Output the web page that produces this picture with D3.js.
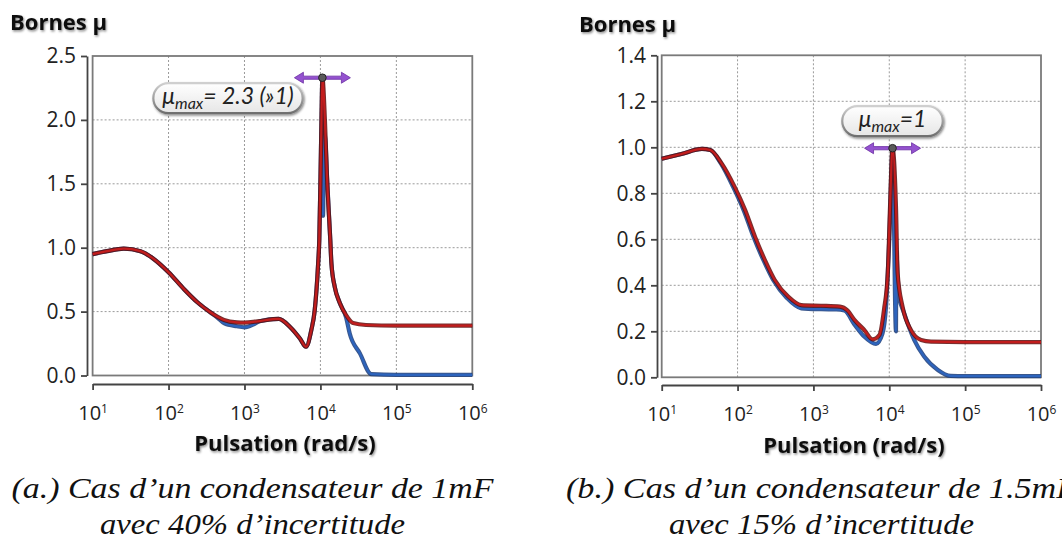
<!DOCTYPE html>
<html>
<head>
<meta charset="utf-8">
<script src="https://cdn.jsdelivr.net/npm/d3@7"></script>
<style>
  body { margin: 0; background: #fff; }
  svg { display: block; }
  .tick text { font-family: "Open Sans", sans-serif; fill: #222; }
</style>
</head>
<body>
<svg id="chart" width="1062" height="547"></svg>
<script>
// x ticks are decades 10^1 .. 10^6 (exponents)
const xTickExp = [1, 2, 3, 4, 5, 6];
const yTicksA = [0, 0.5, 1.0, 1.5, 2.0, 2.5];
const yTicksB = [0, 0.2, 0.4, 0.6, 0.8, 1.0, 1.2, 1.4];

// (a) 1mF, 40% -- log10(pulsation) and mu bounds
const aUpperLw = [1.0, 1.19, 1.41, 1.63, 1.80, 2.0, 2.2, 2.38, 2.55, 2.73, 2.9, 3.0, 3.17, 3.45, 3.6, 3.73, 3.81, 3.88, 3.925, 3.97, 3.985, 4.001, 4.014, 4.026, 4.059, 4.087, 4.13, 4.145, 4.19, 4.25, 4.34, 4.43, 4.6, 5.0, 6.0];
const aUpperMu = [0.95, 0.973, 0.992, 0.973, 0.914, 0.808, 0.678, 0.573, 0.495, 0.435, 0.416, 0.414, 0.424, 0.443, 0.38, 0.29, 0.225, 0.355, 0.51, 0.875, 1.06, 1.55, 2.0, 2.33, 2.0, 1.55, 1.06, 0.875, 0.69, 0.575, 0.47, 0.41, 0.395, 0.39, 0.39];
const aLowerLw = [1.0, 1.19, 1.41, 1.63, 1.80, 2.0, 2.2, 2.38, 2.55, 2.65, 2.73, 2.9, 3.0, 3.12, 3.2, 3.45, 3.6, 3.73, 3.81, 3.88, 3.925, 3.97, 3.985, 4.001, 4.014, 4.026, 4.034, 4.05, 4.065, 4.087, 4.13, 4.145, 4.19, 4.25, 4.34, 4.385, 4.52, 4.67, 5.0, 6.0];
const aLowerMu = [0.95, 0.973, 0.992, 0.973, 0.914, 0.808, 0.678, 0.573, 0.495, 0.45, 0.41, 0.385, 0.377, 0.40, 0.425, 0.443, 0.38, 0.29, 0.225, 0.355, 0.51, 0.875, 1.06, 1.55, 2.0, 2.33, 1.25, 1.9, 1.85, 1.55, 1.06, 0.875, 0.69, 0.575, 0.45, 0.33, 0.173, 0.01, 0.005, 0.005];

// (b) 1.5mF, 15%
const bUpperLw = [1.0, 1.26, 1.53, 1.64, 1.79, 1.96, 2.1, 2.23, 2.36, 2.49, 2.67, 2.84, 3.1, 3.35, 3.45, 3.54, 3.67, 3.78, 3.87, 3.93, 3.98, 4.01, 4.043, 4.088, 4.11, 4.175, 4.285, 4.42, 4.55, 5.0, 6.0];
const bUpperMu = [0.95, 0.971, 0.993, 0.988, 0.93, 0.829, 0.727, 0.611, 0.51, 0.423, 0.35, 0.314, 0.311, 0.307, 0.29, 0.25, 0.206, 0.165, 0.184, 0.293, 0.452, 0.742, 0.996, 0.742, 0.452, 0.307, 0.206, 0.162, 0.155, 0.153, 0.153];
const bLowerLw = [1.0, 1.26, 1.53, 1.64, 1.78, 1.94, 2.08, 2.21, 2.34, 2.47, 2.65, 2.84, 3.1, 3.3, 3.41, 3.54, 3.67, 3.825, 3.91, 3.957, 4.0, 4.043, 4.088, 4.093, 4.11, 4.13, 4.197, 4.33, 4.46, 4.64, 4.81, 5.0, 6.0];
const bLowerMu = [0.95, 0.971, 0.993, 0.988, 0.93, 0.829, 0.727, 0.611, 0.51, 0.423, 0.345, 0.30, 0.296, 0.295, 0.29, 0.23, 0.177, 0.145, 0.19, 0.307, 0.6, 0.99, 0.2, 0.55, 0.44, 0.35, 0.278, 0.162, 0.09, 0.032, 0.006, 0.005, 0.005];

// peak markers and labels
const aPeak = { lw: 4.026, mu: 2.33 };
const bPeak = { lw: 4.043, mu: 0.996 };
const aNote = { value: "= 2.3 (»1)", lw0: 1.80, lw1: 3.766, mu: 2.17 };
const bNote = { value: "=1", lw0: 3.38, lw1: 4.705, mu: 1.114 };

const yTitle = "Bornes μ";
const xTitle = "Pulsation (rad/s)";
const captionA = ["(a.) Cas d’un condensateur de 1mF", "avec 40% d’incertitude"];
const captionB = ["(b.) Cas d’un condensateur de 1.5mF", "avec 15% d’incertitude"];

const svg = d3.select("#chart");
svg.append("rect").attr("width", 1062).attr("height", 547).attr("fill", "#fff");

const defs = svg.append("defs");
const shadow = defs.append("filter").attr("id", "shadow").attr("x", "-10%").attr("y", "-30%").attr("width", "130%").attr("height", "180%");
shadow.append("feDropShadow").attr("dx", 1).attr("dy", 1.5).attr("stdDeviation", 1.2)
  .attr("flood-color", "#000").attr("flood-opacity", 0.45);
const pillFill = defs.append("linearGradient").attr("id", "pillFill").attr("x1", 0).attr("y1", 0).attr("x2", 0).attr("y2", 1);
pillFill.append("stop").attr("offset", "0%").attr("stop-color", "#ffffff");
pillFill.append("stop").attr("offset", "100%").attr("stop-color", "#e6e6e6");
const pillStroke = defs.append("linearGradient").attr("id", "pillStroke").attr("x1", 0).attr("y1", 0).attr("x2", 0).attr("y2", 1);
pillStroke.append("stop").attr("offset", "0%").attr("stop-color", "#d0d0d0");
pillStroke.append("stop").attr("offset", "100%").attr("stop-color", "#6e6e6e");

const panels = [
  { left: 92.6, right: 472.3, top: 56, bottom: 375.5, yMax: 2.5, yTicks: yTicksA,
    yAxisX: 87, xAxisY: 384, titleX: 10, titleY: 29.5, xTitleX: 285, xTitleY: 451,
    upper: [aUpperLw, aUpperMu], lower: [aLowerLw, aLowerMu], peak: aPeak, note: aNote,
    caption: captionA, capX: 252.5, capW: [482, 305] },
  { left: 661.7, right: 1041, top: 55.3, bottom: 377.3, yMax: 1.4, yTicks: yTicksB,
    yAxisX: 657, xAxisY: 385, titleX: 579, titleY: 31.5, xTitleX: 854, xTitleY: 453,
    upper: [bUpperLw, bUpperMu], lower: [bLowerLw, bLowerMu], peak: bPeak, note: bNote,
    caption: captionB, capX: 821.5, capW: [511, 305] }
];

panels.forEach(p => {
  const x = d3.scaleLog().domain([10, 1e6]).range([p.left, p.right]);
  const y = d3.scaleLinear().domain([0, p.yMax]).range([p.bottom, p.top]);
  const g = svg.append("g");

  // dotted grid
  g.selectAll(".vgrid").data(xTickExp.slice(1, -1)).enter().append("line")
    .attr("x1", d => x(10 ** d)).attr("x2", d => x(10 ** d))
    .attr("y1", p.top).attr("y2", p.bottom)
    .attr("stroke", "#9a9a9a").attr("stroke-dasharray", "2,2").attr("stroke-width", 1);
  g.selectAll(".hgrid").data(p.yTicks.slice(1, -1)).enter().append("line")
    .attr("x1", p.left).attr("x2", p.right)
    .attr("y1", d => y(d)).attr("y2", d => y(d))
    .attr("stroke", "#9a9a9a").attr("stroke-dasharray", "2,2").attr("stroke-width", 1);

  // plot frame
  g.append("rect").attr("x", p.left).attr("y", p.top)
    .attr("width", p.right - p.left).attr("height", p.bottom - p.top)
    .attr("fill", "none").attr("stroke", "#7a7a7a").attr("stroke-width", 1.8);

  // axes, detached from the frame
  const yAxis = d3.axisLeft(y).tickValues(p.yTicks).tickFormat(d3.format(".1f"))
    .tickSize(6).tickSizeOuter(0).tickPadding(5);
  const yAxisG = svg.append("g").attr("transform", `translate(${p.yAxisX},0)`).call(yAxis);
  yAxisG.selectAll("text").attr("font-size", 21);

  const xAxis = d3.axisBottom(x).tickValues(xTickExp.map(e => 10 ** e))
    .tickSize(6).tickSizeOuter(0).tickPadding(16).tickFormat(() => "");
  const xAxisG = svg.append("g").attr("transform", `translate(0,${p.xAxisY})`).call(xAxis);
  xAxisG.selectAll("text").attr("font-size", 20).each(function (d) {
    const t = d3.select(this);
    t.text("10");
    t.append("tspan").attr("dy", "-0.6em").attr("font-size", "0.6em").text(Math.round(Math.log10(d)));
  });
  [yAxisG, xAxisG].forEach(a => {
    a.select(".domain").attr("stroke", "#444").attr("stroke-width", 1.8);
    a.selectAll(".tick line").attr("stroke", "#444").attr("stroke-width", 1.8);
  });

  // curves
  const line = d3.line().x(d => x(10 ** d[0])).y(d => y(d[1])).curve(d3.curveMonotoneX);
  const pts = s => s[0].map((v, i) => [v, s[1][i]]);
  [[p.lower, "#173a78", "#2d64bd"], [p.upper, "#5e0c0c", "#c21d1d"]].forEach(([s, dark, col]) => {
    g.append("path").attr("d", line(pts(s))).attr("fill", "none")
      .attr("stroke", dark).attr("stroke-width", 4.2).attr("stroke-linejoin", "round").attr("opacity", 0.85);
    g.append("path").attr("d", line(pts(s))).attr("fill", "none")
      .attr("stroke", col).attr("stroke-width", 2.2).attr("stroke-linejoin", "round");
  });

  // peak marker with double arrow
  const px = x(10 ** p.peak.lw), py = y(p.peak.mu);
  const arrow = svg.append("g").attr("transform", `translate(${px},${py})`);
  arrow.append("path")
    .attr("d", "M-28,0 L-19,-5.5 L-19,-1.6 L19,-1.6 L19,-5.5 L28,0 L19,5.5 L19,1.6 L-19,1.6 L-19,5.5 Z")
    .attr("fill", "#9452cf").attr("stroke", "#6b2ea3").attr("stroke-width", 0.8);
  arrow.append("circle").attr("r", 3.8).attr("fill", "#5a5a5a").attr("stroke", "#222").attr("stroke-width", 1);

  // label pill
  const n = p.note;
  const nx0 = x(10 ** n.lw0), nx1 = x(10 ** n.lw1), ny = y(n.mu);
  const pill = svg.append("g").attr("filter", "url(#shadow)");
  pill.append("rect").attr("x", nx0).attr("y", ny - 15).attr("width", nx1 - nx0).attr("height", 30)
    .attr("rx", 15).attr("fill", "url(#pillFill)").attr("stroke", "url(#pillStroke)").attr("stroke-width", 2.2);
  const nt = svg.append("text").attr("x", (nx0 + nx1) / 2).attr("y", ny + 6)
    .attr("text-anchor", "middle").attr("font-family", "Lato, sans-serif").attr("font-style", "italic")
    .attr("font-size", 23).attr("fill", "#222");
  nt.append("tspan").text("μ");
  nt.append("tspan").attr("dy", 5).attr("font-size", 16).text("max");
  nt.append("tspan").attr("dy", -5).text(n.value);

  // titles
  svg.append("text").attr("x", p.titleX).attr("y", p.titleY).text(yTitle)
    .attr("font-family", "'Open Sans', sans-serif").attr("font-weight", "bold")
    .attr("font-size", 22).attr("fill", "#111").attr("filter", "url(#shadow)");
  svg.append("text").attr("x", p.xTitleX).attr("y", p.xTitleY).text(xTitle)
    .attr("text-anchor", "middle")
    .attr("font-family", "'Open Sans', sans-serif").attr("font-weight", "bold")
    .attr("font-size", 22).attr("fill", "#111").attr("filter", "url(#shadow)");

  // caption
  p.caption.forEach((c, i) => {
    svg.append("text").attr("x", p.capX).attr("y", i === 0 ? 498 : 534)
      .attr("text-anchor", "middle").attr("font-family", "'Liberation Serif', 'Times New Roman', serif")
      .attr("font-style", "italic").attr("font-size", 30).attr("fill", "#111")
      .attr("textLength", p.capW[i]).attr("lengthAdjust", "spacingAndGlyphs").text(c);
  });
});
</script>
</body>
</html>
